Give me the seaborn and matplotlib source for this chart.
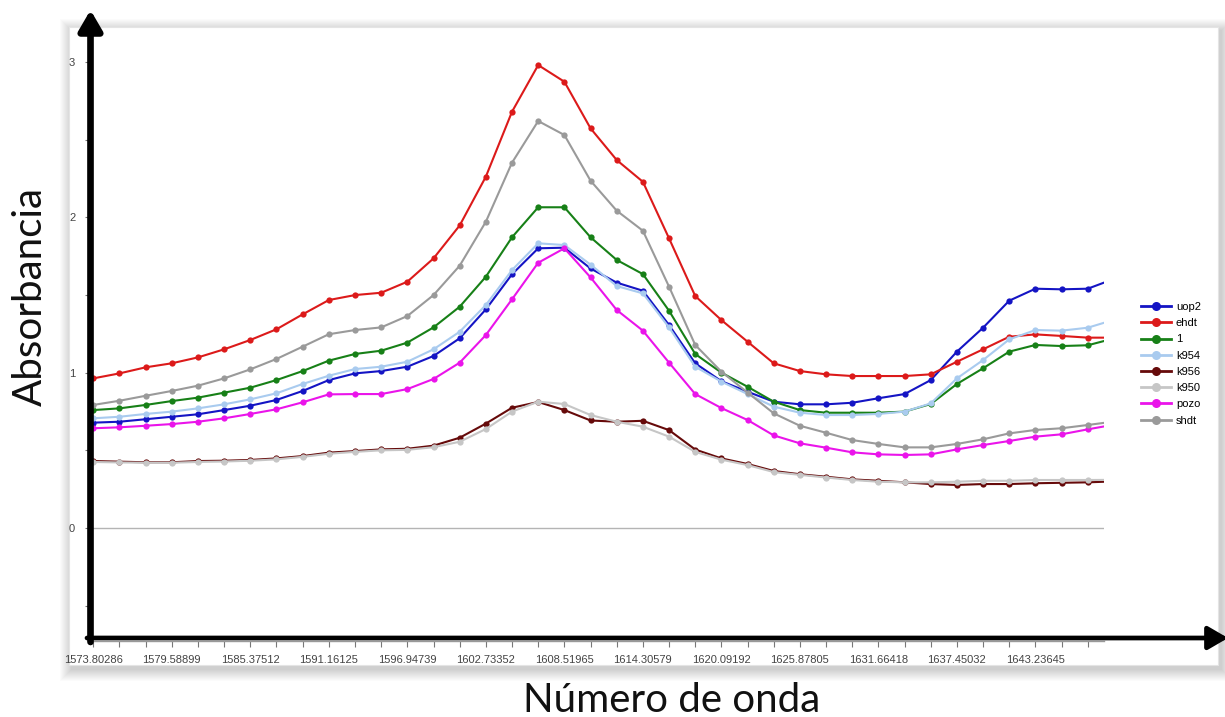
import numpy as np
import pandas as pd
import matplotlib
matplotlib.use("Agg")
import matplotlib.pyplot as plt
import seaborn as sns
from matplotlib.patches import Rectangle, FancyArrowPatch, ArrowStyle
from matplotlib.lines import Line2D

# ---------------- data ----------------
series_names = ["uop2", "ehdt", "1", "k954", "k956", "k950", "pozo", "shdt"]
series_colors = ["#1414c4", "#dc1a1a", "#178017", "#a9cbef", "#660a0a", "#c6c6c6", "#ea14ea", "#9a9a9a"]

tick_labels = ["1573.80286", "1579.58899", "1585.37512", "1591.16125", "1596.94739",
               "1602.73352", "1608.51965", "1614.30579", "1620.09192", "1625.87805",
               "1631.66418", "1637.45032", "1643.23645"]

uop2 = [0.678, 0.684, 0.700, 0.716, 0.732, 0.759, 0.787, 0.824, 0.882, 0.952,
        0.995, 1.010, 1.038, 1.107, 1.221, 1.407, 1.633, 1.800, 1.804, 1.670,
        1.579, 1.527, 1.306, 1.060, 0.945, 0.877, 0.813, 0.796, 0.796, 0.806,
        0.835, 0.862, 0.952, 1.135, 1.289, 1.463, 1.540, 1.536, 1.540, 1.603]
ehdt = [0.963, 0.995, 1.034, 1.060, 1.098, 1.150, 1.210, 1.279, 1.375, 1.467,
        1.499, 1.514, 1.585, 1.735, 1.947, 2.261, 2.679, 2.979, 2.872, 2.572,
        2.368, 2.228, 1.864, 1.493, 1.338, 1.199, 1.060, 1.010, 0.989, 0.978,
        0.978, 0.978, 0.989, 1.070, 1.150, 1.231, 1.246, 1.236, 1.225, 1.225]
uno = [0.759, 0.770, 0.792, 0.817, 0.839, 0.871, 0.903, 0.952, 1.010, 1.077,
       1.120, 1.141, 1.193, 1.291, 1.424, 1.617, 1.871, 2.064, 2.064, 1.871,
       1.725, 1.634, 1.398, 1.120, 1.000, 0.909, 0.813, 0.759, 0.742, 0.742,
       0.742, 0.749, 0.798, 0.927, 1.028, 1.135, 1.178, 1.171, 1.176, 1.220]
k954 = [0.706, 0.716, 0.734, 0.749, 0.770, 0.796, 0.828, 0.867, 0.927, 0.980,
        1.023, 1.038, 1.070, 1.150, 1.263, 1.435, 1.660, 1.832, 1.821, 1.695,
        1.557, 1.510, 1.291, 1.038, 0.942, 0.862, 0.781, 0.742, 0.727, 0.727,
        0.734, 0.749, 0.802, 0.963, 1.081, 1.214, 1.274, 1.270, 1.289, 1.340]
k956 = [0.431, 0.427, 0.423, 0.423, 0.431, 0.433, 0.438, 0.448, 0.463, 0.485,
        0.495, 0.506, 0.510, 0.530, 0.581, 0.672, 0.774, 0.811, 0.759, 0.692,
        0.684, 0.690, 0.630, 0.505, 0.448, 0.412, 0.367, 0.346, 0.330, 0.313,
        0.304, 0.294, 0.283, 0.277, 0.283, 0.283, 0.288, 0.291, 0.294, 0.300]
k950 = [0.425, 0.422, 0.420, 0.420, 0.425, 0.428, 0.433, 0.442, 0.458, 0.478,
        0.490, 0.500, 0.503, 0.520, 0.555, 0.637, 0.749, 0.813, 0.798, 0.727,
        0.684, 0.652, 0.588, 0.490, 0.440, 0.405, 0.360, 0.342, 0.325, 0.309,
        0.298, 0.294, 0.294, 0.298, 0.304, 0.304, 0.309, 0.309, 0.309, 0.310]
pozo = [0.642, 0.648, 0.658, 0.669, 0.684, 0.706, 0.734, 0.764, 0.809, 0.860,
        0.862, 0.862, 0.894, 0.959, 1.064, 1.242, 1.472, 1.707, 1.800, 1.613,
        1.403, 1.270, 1.064, 0.862, 0.772, 0.695, 0.596, 0.545, 0.517, 0.487,
        0.474, 0.470, 0.474, 0.506, 0.534, 0.560, 0.588, 0.603, 0.635, 0.665]
shdt = [0.792, 0.819, 0.851, 0.882, 0.916, 0.963, 1.021, 1.088, 1.167, 1.247,
        1.274, 1.291, 1.364, 1.499, 1.688, 1.971, 2.351, 2.619, 2.529, 2.235,
        2.042, 1.913, 1.553, 1.178, 1.006, 0.872, 0.738, 0.658, 0.613, 0.566,
        0.541, 0.519, 0.519, 0.541, 0.571, 0.609, 0.631, 0.642, 0.663, 0.685]

series_values = [uop2, ehdt, uno, k954, k956, k950, pozo, shdt]

rows = []
for name, vals in zip(series_names, series_values):
    for i, v in enumerate(vals):
        rows.append({"punto": i, "absorbancia": v, "serie": name})
df = pd.DataFrame(rows)

# ---------------- figure ----------------
W, H = 1225, 717
fig = plt.figure(figsize=(W / 100, H / 100), dpi=100)
fig.patch.set_facecolor("white")

def fx(px):
    return px / W

def fy(py):
    return 1 - py / H

# shadowed panel
px0, py0, px1, py1 = 69, 27, 1218, 665
for k in range(12, 0, -1):
    fig.patches.append(Rectangle((fx(px0 - k + 3), fy(py1 + k + 4)),
                                 fx(px1 - px0 + 2 * k), (py1 - py0 + 2 * k) / H,
                                 transform=fig.transFigure, facecolor="black",
                                 edgecolor="none", alpha=0.016, zorder=-20))
fig.patches.append(Rectangle((fx(px0), fy(py1)), fx(px1 - px0), (py1 - py0) / H,
                             transform=fig.transFigure, facecolor="white",
                             edgecolor="#e4e4e4", lw=0.8, zorder=-10))

ax_left, ax_right = 90.5, 1104
ax_top, ax_bot = 27, 641
ax = fig.add_axes([fx(ax_left), fy(ax_bot), fx(ax_right - ax_left), (ax_bot - ax_top) / H])
ax.patch.set_alpha(0)

palette = dict(zip(series_names, series_colors))
sns.lineplot(data=df, x="punto", y="absorbancia", hue="serie", hue_order=series_names,
             palette=palette, marker="o", markersize=4.5, markeredgewidth=0,
             linewidth=1.5, legend=False, ax=ax, zorder=3)

ax.axhline(0, color="#b4b4b4", lw=1.0, zorder=1)

ax.set_xlim(-0.107, 38.62)
ax.set_ylim(-0.727, 3.224)

# ticks
xt = list(range(0, 39))
ax.set_xticks(xt)
lbls = []
for i in xt:
    lbls.append(tick_labels[i // 3] if i % 3 == 0 else "")
ax.set_xticklabels(lbls)
ax.set_yticks([0, 1, 2, 3])
ax.set_yticklabels(["0", "1", "2", "3"])
ax.set_yticks([-0.5, 0.5, 1.5, 2.5], minor=True)

for t in ax.get_xticklabels() + ax.get_yticklabels():
    t.set_fontfamily("Liberation Sans")
    t.set_fontsize(8)
    t.set_color("#444444")
ax.tick_params(axis="x", which="major", length=4, width=0.8, color="#777777", pad=6)
ax.tick_params(axis="y", which="both", length=4, width=0.8, color="#777777", pad=7)

for s in ["top", "right"]:
    ax.spines[s].set_visible(False)
ax.spines["bottom"].set_color("#999999")
ax.spines["bottom"].set_linewidth(1.0)
ax.spines["bottom"].set_bounds(-0.107, 38.62)
ax.spines["left"].set_visible(False)
ax.set_xlabel("")
ax.set_ylabel("")

# big black axis arrows
va = FancyArrowPatch((fx(90.5), fy(642)), (fx(90.5), fy(10)), transform=fig.transFigure,
                     arrowstyle=ArrowStyle("-|>", head_length=0.55, head_width=0.32),
                     mutation_scale=22, lw=4.8, color="black", shrinkA=0, shrinkB=0, zorder=20)
ha = FancyArrowPatch((fx(87), fy(638)), (fx(1228), fy(638)), transform=fig.transFigure,
                     arrowstyle=ArrowStyle("-|>", head_length=0.55, head_width=0.32),
                     mutation_scale=22, lw=3.4, color="black", shrinkA=0, shrinkB=0, zorder=20)
fig.add_artist(va)
fig.add_artist(ha)

# axis titles
fig.text(fx(30), fy(297), "Absorbancia", rotation=90, ha="center", va="center",
         fontsize=29, family="Lato", color="#111111")
fig.text(fx(672), fy(700), "Número de onda", ha="center", va="center",
         fontsize=29, family="Lato", color="#111111")

# legend
handles = [Line2D([0], [0], color=c, lw=2.0, marker="o", markersize=6.5, markeredgewidth=0)
           for c in series_colors]
fig.legend(handles, series_names, loc="upper left",
           bbox_to_anchor=(fx(1141), fy(302)), frameon=False,
           prop={"family": "Liberation Sans", "size": 8},
           handlelength=2.7, handletextpad=0.45, labelspacing=0.56, borderpad=0,
           borderaxespad=0)

fig.savefig("out.png", dpi=100)
